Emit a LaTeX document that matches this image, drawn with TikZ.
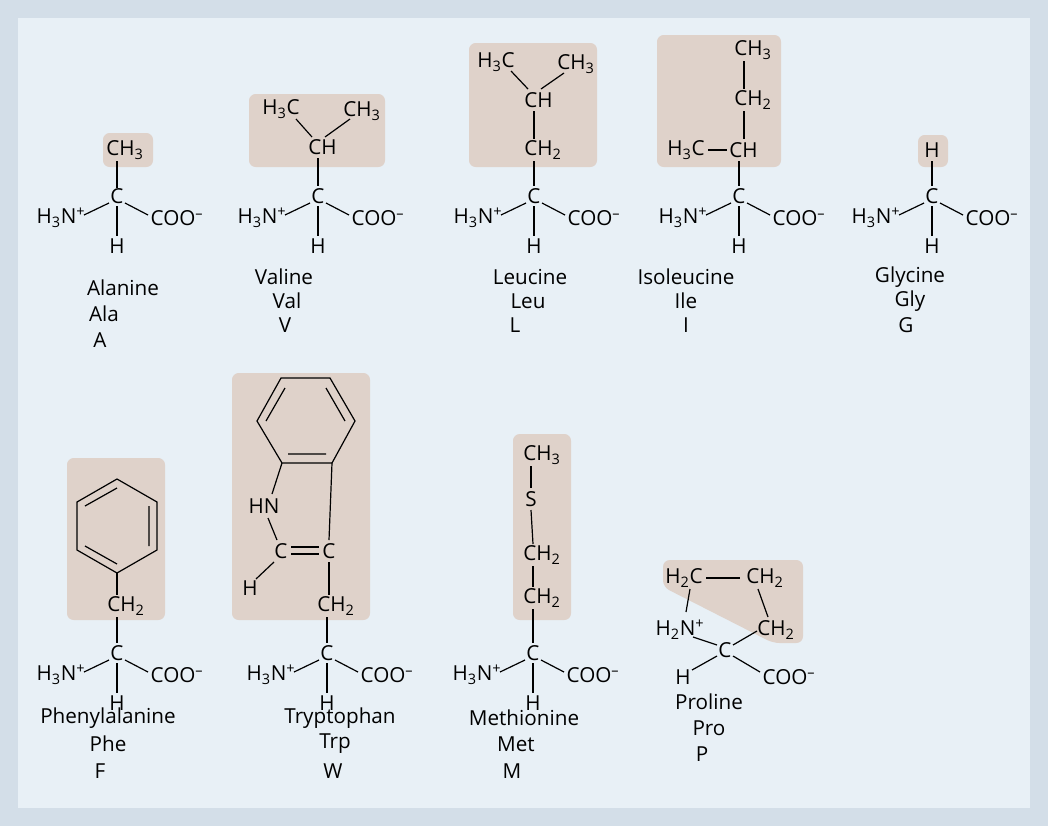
\documentclass[tikz,border=0pt]{standalone}
\usepackage{fontspec}
\setmainfont{Open Sans}
\begin{document}
\begin{tikzpicture}[x=0.75pt,y=-0.75pt,
  t/.style={inner sep=0pt,font=\fontsize{15.5}{17}\selectfont},
  lab/.style={inner sep=0pt,font=\fontsize{15.5}{17}\selectfont},
  bond/.style={line width=0.9pt,black},
  side/.style={fill=boxc,rounded corners=5pt}]
\definecolor{outer}{HTML}{D3DEE8}
\definecolor{inner}{HTML}{E8F0F6}
\definecolor{boxc}{HTML}{DFD2CA}
\newcommand{\backbone}[3]{%
  \node[t] (#3C) at (#1,#2) {C};
  \node[t] (#3N) at ({#1-56},{#2+22}) {H\textsubscript{3}N\textsuperscript{+}};
  \node[t] (#3O) at ({#1+60},{#2+22}) {COO\textsuperscript{–}};
  \node[t] (#3H) at (#1,{#2+50}) {H};
  \draw[bond] ({#1-8},{#2+7}) -- ({#1-33},{#2+19});
  \draw[bond] ({#1+8},{#2+7}) -- ({#1+31},{#2+19});
  \draw[bond] (#1,{#2+10}) -- (#1,{#2+40});}
\fill[outer] (0,0) rectangle (1048,826);
\fill[inner] (18,18) rectangle (1030,808);
% side chain boxes
\fill[side] (103,133) rectangle (153,167);
\fill[side] (249,94) rectangle (385,167);
\fill[side] (469,43) rectangle (597,167);
\fill[side] (657,35) rectangle (781,167);
\fill[side] (918,135) rectangle (948,167);
\fill[side] (67,458) rectangle (165,620);
\fill[side] (232,373) rectangle (370,620);
\fill[side] (513,434) rectangle (571,620);
\fill[side] (663,587) -- (663,560) -- (803,560) -- (803,643) -- (773,643) -- cycle;
% Alanine
\backbone{117}{196}{ala}
\node[t,anchor=west] (alaR) at (106,150) {CH\textsubscript{3}};
\draw[bond] (117,161) -- (alaC);
\node[lab] (alaL1) at (123,288) {Alanine};
\node[lab] (alaL2) at (104,314) {Ala};
\node[lab] (alaL3) at (100,340) {A};
% Valine
\backbone{318}{196}{val}
\node[t,anchor=west] (valCH) at (308,147) {CH};
\node[t] (valA) at (281,109) {H\textsubscript{3}C};
\node[t] (valB) at (362,111) {CH\textsubscript{3}};
\draw[bond] (318,158) -- (318,186);
\draw[bond] (296,119) -- (312,137);
\draw[bond] (350,119) -- (325,137);
\node[lab] (valL1) at (284,277) {Valine};
\node[lab] (valL2) at (287,301) {Val};
\node[lab] (valL3) at (285,325) {V};
% Leucine
\backbone{534}{196}{leu}
\node[t,anchor=west] (leuCH2) at (524,150) {CH\textsubscript{2}};
\node[t,anchor=west] (leuCH) at (524,100) {CH};
\node[t] (leuA) at (496,62) {H\textsubscript{3}C};
\node[t] (leuB) at (576,64) {CH\textsubscript{3}};
\draw[bond] (534,161) -- (534,186);
\draw[bond] (534,111) -- (534,139);
\draw[bond] (511,71) -- (528,89);
\draw[bond] (564,73) -- (541,89);
\node[lab] (leuL1) at (530,277) {Leucine};
\node[lab] (leuL2) at (528,301) {Leu};
\node[lab] (leuL3) at (515,325) {L};
% Isoleucine
\backbone{739}{196}{ile}
\node[t,anchor=west] (ileCH) at (729,150) {CH};
\node[t,anchor=west] (ileCH2) at (734,100) {CH\textsubscript{2}};
\node[t,anchor=west] (ileCH3) at (734,50) {CH\textsubscript{3}};
\node[t] (ileA) at (686,150) {H\textsubscript{3}C};
\draw[bond] (708,150) -- (727,150);
\draw[bond] (739,161) -- (739,186);
\draw[bond] (744,111) -- (744,139);
\draw[bond] (744,61) -- (744,89);
\node[lab] (ileL1) at (686,277) {Isoleucine};
\node[lab] (ileL2) at (686,301) {Ile};
\node[lab] (ileL3) at (686,325) {I};
% Glycine
\backbone{932}{196}{gly}
\node[t] (glyR) at (932,150) {H};
\draw[bond] (932,161) -- (932,186);
\node[lab] (glyL1) at (910,277) {Glycine};
\node[lab] (glyL2) at (910,301) {Gly};
\node[lab] (glyL3) at (906,325) {G};
% Phenylalanine
\backbone{117}{653}{phe}
\node[t,anchor=west] (pheCH2) at (107,606) {CH\textsubscript{2}};
\draw[bond] (117,617) -- (117,643);
\draw[bond] (117,573) -- (77,550) -- (77,502) -- (117,479) -- (157,502) -- (157,550) -- cycle;
\draw[bond] (117,573) -- (117,595);
\draw[bond] (85,506) -- (117,488) (149,506) -- (149,546) (117,564) -- (85,546);
\node[lab] (pheL1) at (108,718) {Phenylalanine};
\node[lab] (pheL2) at (108,744) {Phe};
\node[lab] (pheL3) at (100,771) {F};
% Tryptophan
\backbone{327}{653}{trp}
\node[t,anchor=west] (trpCH2) at (317,606) {CH\textsubscript{2}};
\draw[bond] (327,617) -- (327,643);
\node[t] (trpCa) at (329,551) {C};
\node[t] (trpCb) at (281,551) {C};
\node[t] (trpHN) at (264,506) {HN};
\node[t] (trpH) at (250,588) {H};
\draw[bond] (329,562) -- (329,595);
\draw[bond] (291,547) -- (319,547) (291,554) -- (319,554);
\draw[bond] (268,518) -- (277,540);
\draw[bond] (274,562) -- (256,579);
\draw[bond] (282,463) -- (257,421) -- (281,378) -- (330,378) -- (355,421) -- (332,463) -- cycle;
\draw[bond] (282,463) -- (272,494);
\draw[bond] (332,463) -- (329,540);
\draw[bond] (288,454) -- (326,454) (266,421) -- (285,388) (345,421) -- (326,388);
\node[lab] (trpL1) at (340,718) {Tryptophan};
\node[lab] (trpL2) at (335,744) {Trp};
\node[lab] (trpL3) at (333,771) {W};
% Methionine
\backbone{533}{653}{met}
\node[t,anchor=west] (metA) at (523,598) {CH\textsubscript{2}};
\node[t,anchor=west] (metB) at (523,555) {CH\textsubscript{2}};
\node[t] (metS) at (531,499) {S};
\node[t,anchor=west] (metC) at (523,455) {CH\textsubscript{3}};
\draw[bond] (533,609) -- (533,643);
\draw[bond] (533,566) -- (533,587);
\draw[bond] (531,510) -- (533,544);
\draw[bond] (531,466) -- (531,488);
\node[lab] (metL1) at (524,718) {Methionine};
\node[lab] (metL2) at (516,744) {Met};
\node[lab] (metL3) at (512,771) {M};
% Proline
\node[t] (proC) at (725,650) {C};
\node[t] (proN) at (680,630) {H\textsubscript{2}N\textsuperscript{+}};
\node[t] (proH) at (683,677) {H};
\node[t] (proO) at (789,677) {COO\textsuperscript{–}};
\node[t] (proA) at (684,578) {H\textsubscript{2}C};
\node[t] (proB) at (765,578) {CH\textsubscript{2}};
\node[t] (proD) at (776,630) {CH\textsubscript{2}};
\draw[bond] (706,578) -- (740,578);
\draw[bond] (690,589) -- (686,612);
\draw[bond] (758,589) -- (768,617);
\draw[bond] (693,637) -- (717,645);
\draw[bond] (733,645) -- (757,631);
\draw[bond] (717,656) -- (692,670);
\draw[bond] (733,656) -- (760,672);
\node[lab] (proL1) at (709,702) {Proline};
\node[lab] (proL2) at (709,728) {Pro};
\node[lab] (proL3) at (702,754) {P};
\end{tikzpicture}
\end{document}
